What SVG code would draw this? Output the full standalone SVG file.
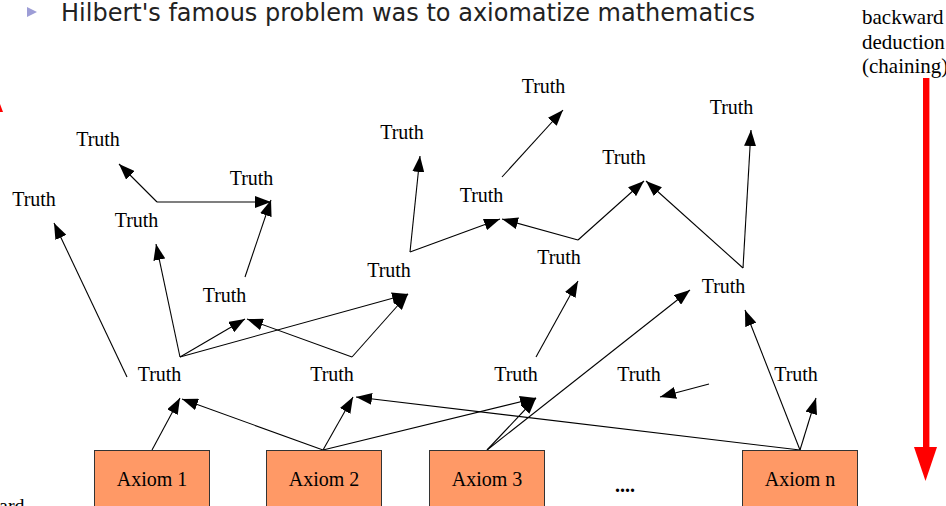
<svg xmlns="http://www.w3.org/2000/svg" width="946" height="506" viewBox="0 0 946 506">
<defs>
<style>
.t{font-family:"Liberation Serif","Times New Roman",serif;font-size:20px;fill:#000;text-anchor:middle}
.lbl{font-family:"Liberation Serif","Times New Roman",serif;font-size:20px;fill:#000}
.rl{font-family:"Liberation Serif","Times New Roman",serif;font-size:21px;fill:#000}
.ax rect{fill:#ff9966;stroke:#333;stroke-width:1}
.c line{stroke:#000;stroke-width:1.1;fill:none;marker-end:url(#ah)}
</style>
<marker id="ah" markerUnits="userSpaceOnUse" markerWidth="17" markerHeight="12" refX="16" refY="6" orient="auto">
<path d="M0,0 L16,6 L0,12 z" fill="#000"/>
</marker>
</defs>
<rect width="946" height="506" fill="#fff"/>
<g id="title">
<polygon points="27,7 37,12 27,17" fill="#9d9dd6"/>
<text x="61" y="21" font-family="DejaVu Sans,Open Sans,sans-serif" font-size="24" fill="#222" textLength="694" lengthAdjust="spacingAndGlyphs">Hilbert's famous problem was to axiomatize mathematics</text>
</g>
<g id="backward">
<text class="rl" x="862" y="24">backward</text>
<text class="rl" x="862" y="49">deduction</text>
<text class="rl" x="862" y="73">(chaining)</text>
<rect x="923" y="78" width="6.4" height="370" fill="#ff0000"/>
<polygon points="914,447 937,447 925.5,481" fill="#ff0000"/>
</g>
<g id="forward">
<polygon points="0,104 3,112 0,112" fill="#ff0000"/>
<text class="lbl" x="-1" y="513">ard</text>
</g>
<g class="c" id="connectors">
<line x1="152" y1="450" x2="180" y2="398"/>
<line x1="323" y1="450" x2="182" y2="399"/>
<line x1="323" y1="450" x2="353" y2="397"/>
<line x1="323" y1="450" x2="536" y2="398"/>
<line x1="800" y1="450" x2="356" y2="397"/>
<line x1="487" y1="450" x2="536" y2="398"/>
<line x1="487" y1="450" x2="690" y2="290"/>
<line x1="800" y1="450" x2="816" y2="398"/>
<line x1="800" y1="450" x2="745" y2="310"/>
<line x1="536" y1="357" x2="578" y2="281"/>
<line x1="709" y1="384" x2="660" y2="397"/>
<line x1="127" y1="377" x2="54" y2="223"/>
<line x1="180" y1="357" x2="156" y2="244"/>
<line x1="180" y1="357" x2="245" y2="319"/>
<line x1="180" y1="357" x2="408" y2="294"/>
<line x1="352" y1="357" x2="247" y2="319"/>
<line x1="352" y1="357" x2="408" y2="294"/>
<line x1="245" y1="277" x2="271" y2="200"/>
<line x1="157" y1="202" x2="119" y2="164"/>
<line x1="157" y1="202" x2="271" y2="202"/>
<line x1="410" y1="252" x2="420" y2="156"/>
<line x1="410" y1="252" x2="500" y2="219"/>
<line x1="578" y1="240" x2="502" y2="219"/>
<line x1="578" y1="240" x2="644" y2="181"/>
<line x1="502" y1="177" x2="563" y2="110"/>
<line x1="743" y1="268" x2="646" y2="181"/>
<line x1="743" y1="268" x2="751" y2="130"/>
</g>
<g id="truth1"><text class="t" x="98" y="146">Truth</text></g>
<g id="truth2"><text class="t" x="251.5" y="185">Truth</text></g>
<g id="truth3"><text class="t" x="34" y="206">Truth</text></g>
<g id="truth4"><text class="t" x="136.5" y="227">Truth</text></g>
<g id="truth5"><text class="t" x="402" y="139">Truth</text></g>
<g id="truth6"><text class="t" x="543.5" y="93">Truth</text></g>
<g id="truth7"><text class="t" x="731.5" y="114">Truth</text></g>
<g id="truth8"><text class="t" x="624" y="164">Truth</text></g>
<g id="truth9"><text class="t" x="481.5" y="202">Truth</text></g>
<g id="truth10"><text class="t" x="389" y="277">Truth</text></g>
<g id="truth11"><text class="t" x="559" y="264">Truth</text></g>
<g id="truth12"><text class="t" x="224.5" y="302">Truth</text></g>
<g id="truth13"><text class="t" x="723.5" y="293">Truth</text></g>
<g id="truth14"><text class="t" x="159.5" y="381">Truth</text></g>
<g id="truth15"><text class="t" x="332" y="381">Truth</text></g>
<g id="truth16"><text class="t" x="516" y="381">Truth</text></g>
<g id="truth17"><text class="t" x="639" y="381">Truth</text></g>
<g id="truth18"><text class="t" x="796" y="381">Truth</text></g>
<g id="axiom1" class="ax"><rect x="94.5" y="450.5" width="115" height="70"/><text class="t" x="152" y="486">Axiom 1</text></g>
<g id="axiom2" class="ax"><rect x="266.5" y="450.5" width="115" height="70"/><text class="t" x="324" y="486">Axiom 2</text></g>
<g id="axiom3" class="ax"><rect x="429.5" y="450.5" width="115" height="70"/><text class="t" x="487" y="486">Axiom 3</text></g>
<g id="dots"><text class="t" x="625" y="492" font-weight="bold">....</text></g>
<g id="axiomn" class="ax"><rect x="742.5" y="450.5" width="115" height="70"/><text class="t" x="800" y="486">Axiom n</text></g>
</svg>
